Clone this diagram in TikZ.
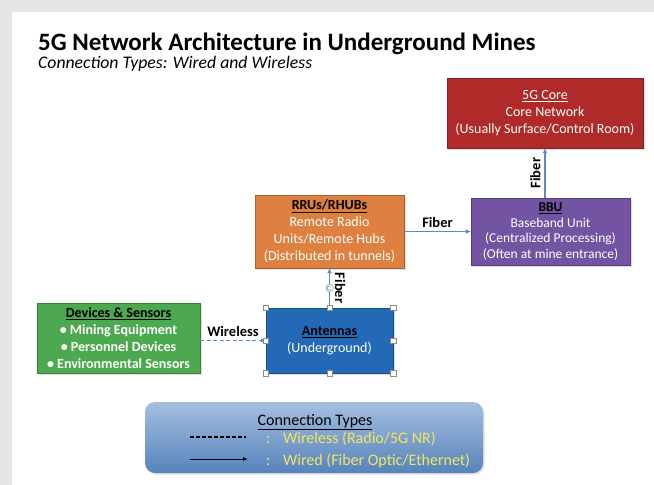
\documentclass[tikz,border=0pt]{standalone}
\usepackage{fontspec}
\setmainfont{Carlito}
\usetikzlibrary{positioning,arrows.meta,shadows}
\definecolor{corered}{HTML}{B02A2A}
\definecolor{bbupurple}{HTML}{7254A2}
\definecolor{rruorange}{HTML}{DE8140}
\definecolor{antblue}{HTML}{2369B6}
\definecolor{devgreen}{HTML}{4DA94F}
\definecolor{linkblue}{HTML}{5B8AC6}
\definecolor{legyellow}{HTML}{F3E65C}
\definecolor{paper}{HTML}{E4E4E2}
\tikzset{
  box/.style={draw=#1!75!black, fill=#1, text=white, align=center,
    font=\fontsize{14}{17}\selectfont, drop shadow={opacity=0.25,shadow xshift=1.5pt,shadow yshift=-1.5pt}},
  wire/.style={linkblue, line width=1.2pt, -{Latex[length=5pt,width=5pt]}},
  radio/.style={wire, dashed, dash pattern=on 4pt off 2.5pt},
  lbl/.style={text=black, font=\bfseries\fontsize{14.5}{16}\selectfont, inner sep=3pt},
  legtext/.style={text=legyellow, font=\fontsize{16}{19}\selectfont, anchor=base west, inner sep=0pt},
  handle/.style={draw=black!45, fill=white, minimum size=5.5pt, inner sep=0pt}
}
\newcommand{\head}[1]{{\color{black}\bfseries\underline{#1}}}
\begin{document}
\begin{tikzpicture}[x=1pt,y=-1pt]
\useasboundingbox (0,0) rectangle (654,485);
\fill[paper] (0,0) rectangle (654,485);
\fill[white] (12,12) rectangle (654,485);
% title
\node[anchor=base west, inner sep=0pt, font=\bfseries\fontsize{25}{29}\selectfont] (title) at (38,50) {5G Network Architecture in Underground Mines};
\node[anchor=base west, inner sep=0pt, font=\itshape\fontsize{17.7}{21}\selectfont] (subtitle) at (38,68) {Connection Types: Wired and Wireless};
% boxes
\node[box=corered, minimum width=196, minimum height=70] (core) at (545,113)
  {{\underline{5G Core}}\\Core Network\\(Usually Surface/Control Room)};
\node[box=bbupurple, minimum width=159, minimum height=67, font=\fontsize{13.5}{15.5}\selectfont] (bbu) at (550.5,231.5)
  {\head{BBU}\\Baseband Unit\\(Centralized Processing)\\(Often at mine entrance)};
\node[box=rruorange, minimum width=149, minimum height=73] (rru) at (329.5,231.5)
  {\head{RRUs/RHUBs}\\Remote Radio\\Units/Remote Hubs\\(Distributed in tunnels)};
\node[box=antblue, minimum width=127, minimum height=65] (ant) at (329.5,340.5)
  {\head{Antennas}\\(Underground)};
\node[box=devgreen, minimum width=163, minimum height=70, font=\bfseries\fontsize{14}{17}\selectfont] (dev) at (118.5,338)
  {\head{Devices \& Sensors}\\\textbullet{} Mining Equipment\\\textbullet{} Personnel Devices\\\textbullet{} Environmental Sensors};
% connections
\draw[radio] (ant.west -| dev.east) -- node[lbl, above] (wlabel) {Wireless} (ant.west);
\draw[wire] (ant.north) -- node[lbl, anchor=south, rotate=-90, inner sep=5pt] (flabel1) {Fiber} (rru.south);
\draw[wire] (rru.east) -- node[lbl, above] (flabel2) {Fiber} (bbu.west);
\draw[wire] (bbu.north -| core.south) -- node[lbl, anchor=south, rotate=90, inner sep=4pt] (flabel3) {Fiber} (core.south);
% selection handles
\foreach \a in {north west,north,north east,west,east,south west,south,south east}
  \node[handle] (h-\a) at (ant.\a) {};
\node[draw=black!45, fill=white, circle, minimum size=8pt, inner sep=0pt] (rot) at (329.5,288) {};
\draw[black!55, line width=0.5pt] ([shift={(45:2.2pt)}]rot.center) arc[start angle=45, end angle=315, radius=2.2pt];
% legend
\node[rounded corners=10pt, top color=linkblue!55!white, bottom color=linkblue!95!black, minimum width=338, minimum height=71,
  drop shadow={opacity=0.25,shadow xshift=1.5pt,shadow yshift=-1.5pt}] (legend) at (314,437.5) {};
\node[font=\fontsize{16}{19}\selectfont, inner sep=0pt, anchor=base] (legtitle) at (315,425) {\underline{Connection Types}};
\coordinate (d1) at (190,437);
\coordinate (d2) at (246,437);
\coordinate (s1) at (190,459);
\coordinate (s2) at (248,459);
\draw[black, line width=1.3pt, dash pattern=on 4pt off 2pt] (d1) -- (d2);
\draw[black, line width=1pt, -{Latex[length=5pt,width=4pt]}] (s1) -- (s2);
\node[legtext] (colon1) at (266,443) {:};
\node[legtext] (colon2) at (266,465) {:};
\node[legtext] (legwl) at (283,443) {Wireless (Radio/5G NR)};
\node[legtext] (legwd) at (283,465) {Wired (Fiber Optic/Ethernet)};
\end{tikzpicture}
\end{document}
